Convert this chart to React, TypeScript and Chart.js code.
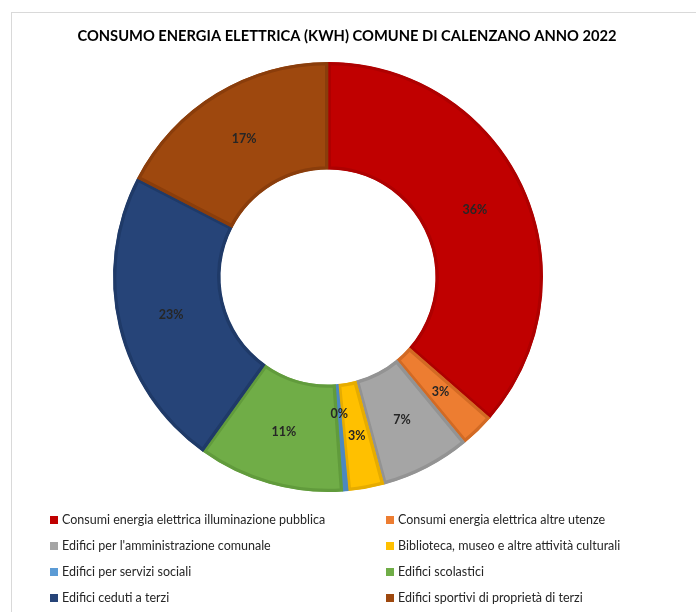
import React, { useEffect, useRef } from "react";
import { Chart, registerables } from "chart.js";

Chart.register(...registerables);

const TITLE = "CONSUMO ENERGIA ELETTRICA (KWH) COMUNE DI CALENZANO ANNO 2022";
const categories = [
  "Consumi energia elettrica illuminazione pubblica",
  "Consumi energia elettrica altre utenze",
  "Edifici per l'amministrazione comunale",
  "Biblioteca, museo e altre attività culturali",
  "Edifici per servizi sociali",
  "Edifici scolastici",
  "Edifici ceduti a terzi",
  "Edifici sportivi di proprietà di terzi",
];
// share of total consumption (%)
const shares = [36.4, 2.6, 6.8, 2.7, 0.4, 11.0, 22.7, 17.4];
const fillColors = ["#C00000", "#ED7D31", "#A5A5A5", "#FFC000", "#5B9BD5", "#70AD47", "#264478", "#9E480E"];
const edgeColors = ["#AE0000", "#D26A24", "#939393", "#E6AC00", "#4C88C0", "#619B3C", "#1F3A68", "#8A3D0B"];

const FONT = "Lato, 'Open Sans', sans-serif";

const overlayPlugin = {
  id: "overlay",
  afterDatasetsDraw(chart: any) {
    const ctx = chart.ctx as CanvasRenderingContext2D;
    const meta = chart.getDatasetMeta(0);
    const data = chart.data.datasets[0].data as number[];
    const total = data.reduce((a, b) => a + b, 0);
    ctx.save();
    // percentage labels
    ctx.font = `bold 12.5px ${FONT}`;
    ctx.fillStyle = "#262626";
    ctx.textAlign = "center";
    ctx.textBaseline = "middle";
    meta.data.forEach((arc: any, i: number) => {
      const p = arc.getProps(["x", "y", "startAngle", "endAngle", "innerRadius", "outerRadius"], true);
      const mid = (p.startAngle + p.endAngle) / 2;
      let r = (p.innerRadius + p.outerRadius) / 2;
      if (i === 4) r -= 24;
      const x = p.x + Math.cos(mid) * r;
      const y = p.y + Math.sin(mid) * r;
      ctx.fillText(Math.round((data[i] / total) * 100) + "%", x, y);
    });
    // title
    ctx.font = `bold 14.7px ${FONT}`;
    ctx.fillStyle = "#000000";
    ctx.fillText(TITLE, 347, 36);
    // legend (2 columns)
    ctx.font = `12.5px ${FONT}`;
    ctx.textAlign = "left";
    const labels = chart.data.labels as string[];
    labels.forEach((lab, i) => {
      const col = i % 2;
      const row = Math.floor(i / 2);
      const x0 = col === 0 ? 50 : 386;
      const y0 = 520 + row * 26;
      ctx.fillStyle = fillColors[i];
      ctx.fillRect(x0, y0 - 4, 8, 8);
      ctx.fillStyle = "#262626";
      ctx.fillText(lab, x0 + 12, y0);
    });
    ctx.restore();
  },
};

export default function App() {
  const ref = useRef<HTMLCanvasElement | null>(null);
  useEffect(() => {
    if (!ref.current) return;
    const chart = new Chart(ref.current, {
      type: "doughnut",
      data: {
        labels: categories,
        datasets: [
          {
            data: shares,
            backgroundColor: fillColors,
            borderColor: edgeColors,
            borderWidth: 3,
            borderAlign: "inner",
          } as any,
        ],
      },
      options: {
        animation: false,
        responsive: true,
        maintainAspectRatio: false,
        cutout: "50%",
        layout: { padding: { top: 62, bottom: 120, left: 113, right: 153 } },
        plugins: {
          legend: { display: false },
          title: { display: false },
          tooltip: { enabled: false },
        },
      },
      plugins: [overlayPlugin],
    });
    return () => chart.destroy();
  }, []);
  return (
    <div style={{ position: "fixed", left: 0, top: 0, width: 696, height: 612, background: "#fff", overflow: "hidden" }}>
      <div
        style={{
          position: "absolute",
          left: 11,
          top: 12,
          width: 720,
          height: 640,
          borderLeft: "1px solid #d9d9d9",
          borderTop: "1px solid #d9d9d9",
        }}
      />
      <canvas ref={ref} style={{ position: "absolute", left: 0, top: 0, width: 696, height: 612 }} />
    </div>
  );
}
